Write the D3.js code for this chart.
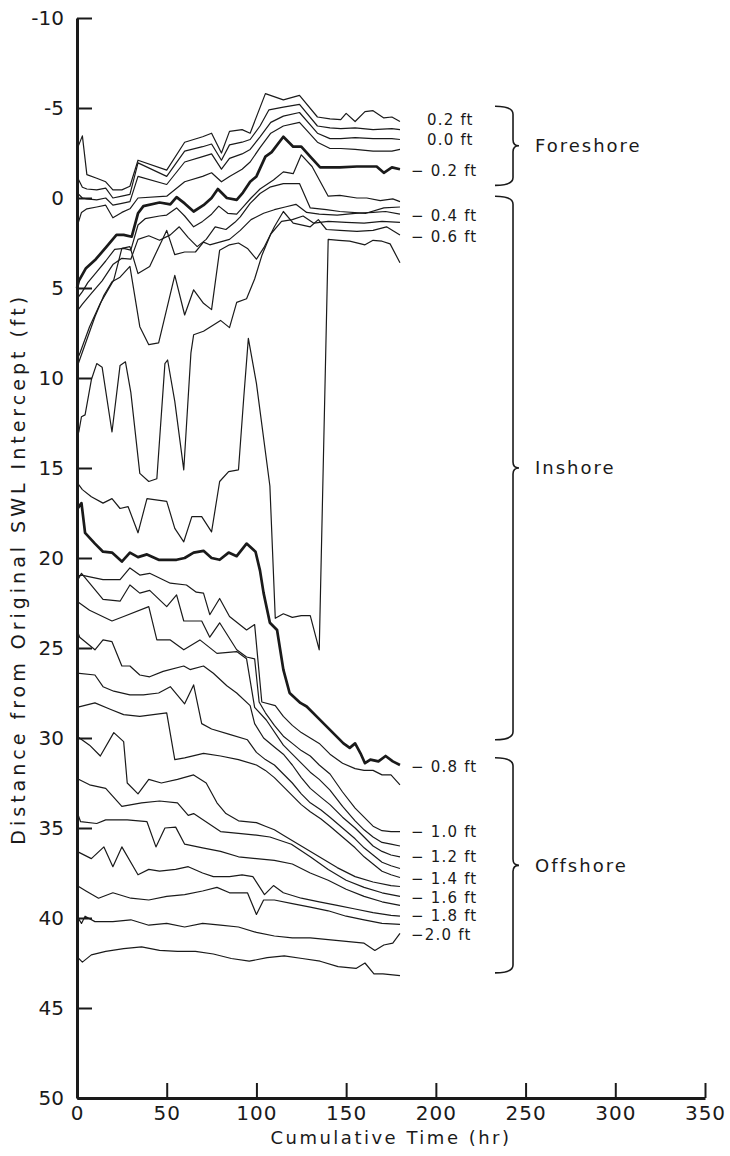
<!DOCTYPE html>
<html>
<head>
<meta charset="utf-8">
<script src="https://cdn.jsdelivr.net/npm/d3@7"></script>
<style>
  body { margin: 0; background: #fff; }
  svg text { font-family: "DejaVu Sans", sans-serif; fill: #1a1a1a; }
</style>
</head>
<body>
<svg id="chart" width="730" height="1156"></svg>
<script>
// Contour positions: [cumulative time (hr), distance from original SWL intercept (ft)]
// Foreshore contours
const z_p02 = [[0,-2.7],[3,-3.45],[5.5,-1.3],[11,-1.1],[16,-0.9],[20,-0.45],[25,-0.45],[29.5,-0.65],[34,-2.1],[50,-1.55],[60,-3.1],[70,-3.4],[75,-3.6],[80.5,-2.5],[85,-3.7],[92,-3.8],[96.5,-3.6],[105,-5.8],[115,-5.45],[124,-5.7],[134,-4.5],[141,-4.4],[147,-4.35],[150,-4.7],[155,-4.25],[160.5,-4.8],[165,-4.85],[171,-4.45],[175.5,-4.5],[180,-4.25]];
const z_p01 = [[0,-1.2],[3,-0.6],[5.5,-0.5],[11,-0.45],[16,-0.55],[20,0.0],[25,-0.1],[29.5,-0.2],[34,-1.95],[50,-1.2],[60,-2.6],[70,-2.85],[75,-3.0],[80.5,-2.1],[85,-2.95],[92,-3.1],[96.5,-3.25],[102,-4.0],[107,-4.9],[115,-5.05],[124,-5.2],[134,-4.0],[141,-3.9],[147,-3.85],[155,-3.9],[165,-3.8],[175.5,-3.85],[180,-3.8]];
const z_000 = [[0,-0.3],[3,0.0],[5.5,0.05],[11,0.1],[16,0.0],[20,0.4],[25,0.3],[29.5,0.2],[34,-1.2],[50,-0.75],[60,-2.0],[70,-2.3],[75,-2.45],[80.5,-1.6],[85,-2.2],[92,-2.45],[96.5,-2.7],[102,-3.4],[108,-4.2],[115,-4.55],[124,-4.75],[134,-3.6],[141,-3.3],[147,-3.3],[155,-3.35],[165,-3.3],[175.5,-3.3],[180,-3.25]];
const z_m01 = [[0,1.6],[2.5,0.8],[5.5,0.6],[11,0.5],[16,0.4],[20,1.1],[25,0.8],[29.5,0.6],[34,0.0],[50,-0.1],[60,-0.9],[70,-1.2],[75,-1.4],[80.5,-0.9],[85,-1.2],[92,-1.6],[96.5,-2.0],[102,-2.8],[108,-3.6],[115,-4.0],[124,-4.2],[134,-3.1],[141,-2.75],[147,-2.75],[155,-2.7],[165,-2.6],[175.5,-2.6],[180,-2.7]];
const z_m02 = [[0,5.0],[1,4.6],[5,3.9],[10.5,3.4],[16.5,2.7],[22,2.05],[26,2.05],[30.5,2.15],[34,0.85],[37,0.45],[46,0.25],[52,0.35],[55.5,-0.05],[60,0.3],[65,0.75],[70.5,0.4],[75,0.0],[78.5,-0.5],[83.5,0.0],[89,0.1],[92.5,-0.3],[96.5,-0.9],[100,-1.2],[105,-2.3],[108.5,-2.55],[115,-3.4],[120.5,-2.85],[125,-2.85],[130,-2.3],[135.5,-1.7],[146.5,-1.7],[156,-1.75],[167,-1.75],[171,-1.4],[175.5,-1.7],[180,-1.6]];
// Inshore contours
const z_m03 = [[0,5.6],[3,5.2],[6,4.7],[11,4.1],[16,3.5],[21,2.85],[26,2.8],[30,2.9],[34,1.5],[38,1.15],[46,1.0],[50,0.95],[55.5,0.55],[60,1.0],[65,1.6],[70,1.3],[75,0.9],[79,0.45],[84,0.85],[89,0.9],[93,0.45],[97,0.0],[102,-0.5],[109.5,-1.0],[115,-1.45],[120.5,-1.35],[125,-2.4],[131,-1.75],[140,-0.1],[146.5,-0.15],[156,0.0],[161.5,0.0],[169,0.15],[176,0.05],[180,0.2]];
const z_m03b = [[0,6.3],[3,5.9],[8,5.3],[14,4.6],[20,3.7],[25,3.35],[30,3.4],[34,2.3],[40,2.1],[46,2.35],[52,2.05],[57,1.6],[62,2.2],[67,2.7],[72,2.3],[77,1.6],[83,1.75],[88,1.35],[91,1.05],[96.5,0.3],[102,-0.25],[107.5,-0.6],[115,-0.8],[124,-0.8],[130,0.55],[139,0.65],[146.5,0.75],[161,0.85],[171,0.55],[180,0.5]];
const z_m04 = [[0,9.0],[1.7,8.6],[7,7.15],[13,5.85],[20.5,4.55],[25,2.8],[29.5,2.7],[34,4.2],[40.5,3.8],[50,1.8],[54.5,3.15],[60,3.0],[66,3.0],[70.5,2.45],[74,2.6],[79.5,2.45],[85,2.3],[91,1.8],[97,1.2],[104,0.85],[110,0.65],[116,0.5],[122,0.35],[128,0.8],[135,0.9],[145,0.95],[155,0.85],[165,0.8],[172,0.75],[180,0.9]];
const z_m05 = [[0,13.2],[1,13.0],[2.5,12.15],[4.5,12.05],[8,10.1],[11,9.2],[14,9.4],[19.5,13.0],[24,9.3],[27,9.1],[30,10.8],[35,15.3],[40,15.75],[44.5,15.6],[49,9.2],[50.5,9.0],[54.5,11.3],[59.5,15.1],[63.5,8.6],[65,7.6],[70.5,7.4],[80,6.8],[85,7.2],[89,5.8],[94.5,5.6],[99,4.5],[103,3.2],[108,2.0],[114,1.3],[120,1.2],[126,1.0],[132,1.4],[140,1.3],[150,1.35],[160,1.4],[170,1.3],[180,1.35]];
const z_m06 = [[0,9.4],[5,8.0],[10,6.6],[15,5.4],[19.5,4.65],[24,4.4],[29.5,3.8],[35,7.15],[40,8.15],[45.5,8.05],[54.5,4.3],[60,6.5],[65,5.1],[70.5,5.85],[75,6.2],[79.5,2.9],[85,2.6],[90,2.5],[95,2.8],[100,3.4],[104.5,2.7],[110,1.6],[115,0.75],[120.5,1.4],[130,1.6],[134.5,1.2],[139,1.75],[146.5,1.8],[156,1.85],[165,1.8],[172.5,1.6],[180,2.05]];
const z_m07 = [[0,15.8],[3,16.2],[8,16.6],[14.5,16.95],[19.5,16.7],[24,17.25],[28.5,17.15],[34,18.6],[39,16.7],[50,16.85],[54.5,18.35],[59.5,19.1],[64,17.7],[69.5,17.7],[75,18.55],[79.5,15.75],[84.5,15.2],[90,15.1],[93,11.0],[95.5,7.8],[100,10.3],[107.5,16.0],[110.5,23.35],[115,23.1],[120,23.3],[125,23.2],[130,23.2],[135,25.1],[140,2.3],[146,2.35],[152,2.4],[160.5,2.6],[165,2.35],[170,2.4],[174.5,2.55],[180,3.6]];
const z_m08 = [[0,17.3],[2.5,16.95],[4.5,18.6],[10,19.2],[14.5,19.65],[19.5,19.7],[25,20.2],[29.5,19.7],[34,19.95],[39,19.8],[45.5,20.1],[55.5,20.1],[60,20.0],[65,19.7],[70.5,19.6],[75,20.0],[79.5,20.1],[84.5,19.7],[89,19.9],[94.5,19.2],[99.5,19.65],[102,20.7],[104,21.95],[107.5,23.6],[111.5,24.0],[115,26.2],[118.5,27.5],[124.5,28.05],[128,28.25],[133.5,28.8],[141,29.55],[148.5,30.3],[152,30.55],[155,30.3],[158,30.85],[160.5,31.4],[163.5,31.2],[168,31.3],[172,31.0],[176,31.3],[180,31.5]];
// Offshore contours
const z_m09 = [[0,21.0],[2.5,20.95],[14.5,21.2],[24,21.2],[29.5,20.55],[35,20.95],[40.5,20.85],[52,21.4],[61,21.5],[66.5,21.9],[70.5,21.95],[74,23.15],[79.5,22.25],[85,23.25],[94.5,24.0],[99,23.7],[103,28.0],[110.5,28.2],[115,28.8],[120,29.3],[125,29.7],[130,30.0],[135,30.3],[141,30.9],[148,31.4],[155,31.7],[160,31.8],[165,31.8],[170,32.05],[175,32.05],[180,32.6]];
const z_m10 = [[0,21.3],[2.5,20.85],[7,21.4],[14.5,22.3],[24,22.4],[29.5,21.5],[35,21.95],[40.5,21.8],[50,22.7],[55.5,22.05],[59.5,23.5],[69.5,23.5],[74,24.4],[79.5,23.6],[89,25.1],[94.5,25.5],[99,25.6],[101.5,28.0],[105,28.6],[110,29.3],[115,29.9],[120,30.3],[125,30.7],[130,31.0],[135,31.5],[141,32.0],[148,33.0],[155,33.9],[160,34.4],[165,34.9],[170,35.15],[175,35.2],[180,35.2]];
const z_m11 = [[0,22.4],[7,22.9],[19.5,23.5],[26,23.25],[40,22.7],[44.5,24.55],[52,24.55],[59.5,25.1],[68.5,24.55],[78,25.3],[89,25.2],[94.5,25.6],[99,28.3],[105.5,29.0],[115,30.4],[120,30.9],[125,31.4],[130,31.9],[135,32.3],[141,32.9],[148,33.8],[155,34.6],[160,35.1],[165,35.5],[170,35.8],[175,35.9],[180,36.0]];
const z_m12 = [[0,24.0],[1.5,24.4],[10,25.1],[14.5,24.55],[19.5,24.65],[25,26.0],[29.5,26.0],[35,26.5],[40.5,26.6],[48,26.3],[59.5,26.0],[63,26.2],[70.5,26.0],[76,26.4],[83.5,27.1],[89,27.5],[96.5,28.2],[99,29.2],[104,30.0],[110,30.5],[115,30.9],[120,31.5],[125,32.2],[130,32.8],[136,33.3],[141,33.7],[148,34.4],[155,35.0],[160,35.5],[165,36.0],[170,36.3],[175,36.5],[180,36.6]];
const z_m13 = [[0,26.4],[10,26.5],[14.5,27.15],[20.5,27.4],[29.5,27.6],[37,27.6],[45.5,27.5],[52,27.15],[60,28.1],[65,27.05],[69.5,29.2],[75,29.5],[85,29.8],[95,30.1],[100,30.8],[105,31.2],[110,31.5],[115,32.0],[120,32.5],[125,33.1],[130,33.6],[136,34.0],[141,34.4],[148,35.0],[155,35.6],[160,36.1],[165,36.5],[170,36.9],[175,37.1],[180,37.25]];
const z_m14 = [[0,28.3],[10,28.05],[18.5,28.4],[26,28.7],[35,28.8],[42.5,28.7],[50,28.6],[54.5,31.2],[60,31.1],[70.5,30.85],[80,31.0],[90,31.2],[100,31.5],[105,31.8],[110,32.2],[115,32.7],[120,33.2],[125,33.7],[130,34.1],[136,34.5],[141,34.9],[148,35.5],[155,36.1],[160,36.6],[165,37.0],[170,37.4],[175,37.6],[180,37.75]];
const z_m15 = [[0,29.9],[7,30.4],[13,31.0],[20.5,29.7],[26,30.2],[28,32.5],[34,33.1],[40,32.3],[47,32.5],[56,32.3],[65,32.05],[72,32.5],[78,33.6],[83,34.2],[90,34.6],[100,34.7],[105,34.9],[110,35.1],[115,35.4],[125,36.0],[135,36.6],[145,37.2],[155,37.7],[165,38.0],[175,38.2],[180,38.25]];
const z_m16 = [[0,32.25],[7,32.6],[16,32.8],[25,33.8],[36,33.6],[46,33.5],[56,33.6],[62,34.3],[65,34.2],[80,35.2],[90,35.3],[100,35.4],[107.5,35.5],[119.5,35.9],[130,36.6],[140,37.3],[150,37.9],[160,38.3],[170,38.6],[180,38.8]];
const z_m17 = [[0,34.1],[2,34.65],[11,34.75],[16,34.55],[28,34.55],[39,34.65],[44,36.05],[49,35.0],[55,34.95],[60,35.9],[70,36.1],[80,36.3],[90,36.6],[100,36.7],[110,36.8],[120,37.0],[130,37.5],[140,37.9],[150,38.4],[160,38.8],[170,39.1],[180,39.3]];
const z_m18 = [[0,36.3],[8,36.7],[15,36.05],[20,37.15],[25,36.05],[34,37.6],[40,37.3],[46,37.4],[55,37.3],[62,37.15],[70,37.5],[76,37.7],[85,37.7],[92,37.6],[98,37.7],[104.5,38.7],[109.5,38.2],[115,38.6],[125,38.9],[135,39.1],[145,39.3],[155,39.5],[165,39.7],[175,39.85],[180,39.9]];
const z_m19 = [[0,38.2],[5,38.5],[12,38.9],[20,38.6],[30,38.9],[40,39.0],[50,38.8],[60,38.7],[70,38.5],[78,38.3],[85,38.6],[95,38.6],[100,39.8],[104,39.0],[110,39.0],[120,39.2],[130,39.4],[140,39.6],[150,39.9],[160,40.1],[170,40.3],[180,40.35]];
const z_m20 = [[0,39.9],[2.5,40.3],[4.5,39.9],[10,40.2],[20,40.2],[30,40.1],[40,40.4],[50,40.3],[60,40.5],[70,40.3],[80,40.4],[90,40.5],[100,40.8],[110,41.0],[120,41.1],[130,41.1],[140,41.2],[150,41.3],[160,41.4],[166,41.8],[171,41.5],[176,41.4],[180,40.85]];
const z_m21 = [[0,42.15],[3,42.45],[8,42.05],[16,41.85],[26,41.7],[36,41.6],[46,41.8],[56,41.85],[66,41.85],[76,42.0],[86,42.25],[96,42.4],[106,42.2],[115.5,42.1],[125.5,42.25],[135.5,42.4],[145.5,42.7],[155.5,42.8],[160.5,42.5],[165.5,43.1],[170.5,43.1],[180,43.2]];

const contours = [z_p02, z_p01, z_000, z_m01, z_m02, z_m03, z_m03b, z_m04, z_m05, z_m06, z_m07, z_m08,
                  z_m09, z_m10, z_m11, z_m12, z_m13, z_m14, z_m15, z_m16, z_m17, z_m18, z_m19, z_m20, z_m21];
const heavyContours = [z_m02, z_m08];

// Elevation labels at the right-hand end of the contours
const labelText = ["0.2 ft", "0.0 ft", "\u2212 0.2 ft", "\u2212 0.4 ft", "\u2212 0.6 ft", "\u2212 0.8 ft",
                   "\u2212 1.0 ft", "\u2212 1.2 ft", "\u2212 1.4 ft", "\u2212 1.6 ft", "\u2212 1.8 ft", "\u22122.0 ft"];
const labelAt = [-4.35, -3.25, -1.5, 0.95, 2.15, 31.6, 35.2, 36.6, 37.8, 38.85, 39.85, 40.9];

// Beach zones (bracketed ranges of distance)
const zoneNames = ["Foreshore", "Inshore", "Offshore"];
const zoneFrom = [-5.1, -0.1, 31.1];
const zoneTo = [-0.7, 30.1, 43.05];

// Axis ticks
const xTicks = [0, 50, 100, 150, 200, 250, 300, 350];
const yTicks = [-10, -5, 0, 5, 10, 15, 20, 25, 30, 35, 40, 45, 50];

const svg = d3.select("#chart");
const ink = "#1a1a1a";
const x = d3.scaleLinear().domain([0, 350]).range([77, 705]);
const y = d3.scaleLinear().domain([-10, 50]).range([18, 1098]);

const line = d3.line().x(d => x(d[0])).y(d => y(d[1]));

svg.append("g").selectAll("path")
  .data(contours)
  .join("path")
  .attr("d", line)
  .attr("fill", "none")
  .attr("stroke", ink)
  .attr("stroke-width", d => heavyContours.includes(d) ? 2.7 : 1.2)
  .attr("stroke-linejoin", "round");

// Axes: ticks point into the plot
const yAxis = d3.axisLeft(y).tickValues(yTicks).tickSizeInner(-15).tickSizeOuter(0)
  .tickPadding(13).tickFormat(d => d < 0 ? "-" + Math.abs(d) : String(d));
const gy = svg.append("g").attr("transform", `translate(${x(0)},0)`).call(yAxis);
gy.attr("font-size", 20).attr("font-family", "DejaVu Sans, sans-serif");
gy.select(".domain").attr("stroke", ink).attr("stroke-width", 3);
gy.selectAll(".tick line").attr("stroke", ink).attr("stroke-width", 2);
gy.selectAll(".tick text").attr("fill", ink);

const xAxis = d3.axisBottom(x).tickValues(xTicks).tickSizeInner(-15).tickSizeOuter(0).tickPadding(8);
const gx = svg.append("g").attr("transform", `translate(0,${y(50)})`).call(xAxis);
gx.attr("font-size", 20).attr("font-family", "DejaVu Sans, sans-serif");
gx.select(".domain").attr("stroke", ink).attr("stroke-width", 3);
gx.selectAll(".tick line").attr("stroke", ink).attr("stroke-width", 2);
gx.selectAll(".tick text").attr("fill", ink).attr("letter-spacing", 1);

// Axis titles
svg.append("text")
  .attr("x", (x(0) + x(350)) / 2).attr("y", 1144)
  .attr("text-anchor", "middle").attr("font-size", 18).attr("letter-spacing", 2.5)
  .text("Cumulative Time (hr)");
svg.append("text")
  .attr("transform", `translate(25,${y(20.6)}) rotate(-90)`)
  .attr("text-anchor", "middle").attr("font-size", 19).attr("letter-spacing", 4)
  .text("Distance from Original SWL Intercept (ft)");

// Contour elevation labels
const lineEnd = x(180);
svg.append("g").selectAll("text")
  .data(labelText)
  .join("text")
  .attr("x", d => d.startsWith("\u2212") ? lineEnd + 11 : lineEnd + 27)
  .attr("y", (d, i) => y(labelAt[i]))
  .attr("dy", "0.36em")
  .attr("font-size", 15)
  .attr("letter-spacing", 1.2)
  .text(d => d);

// Zone braces
const braceX = x(243);
const brace = (top, bot) => {
  const mid = (top + bot) / 2;
  return `M${braceX - 18},${top} Q${braceX},${top} ${braceX},${top + 8}` +
         ` L${braceX},${mid - 6} Q${braceX},${mid} ${braceX + 6},${mid}` +
         ` Q${braceX},${mid} ${braceX},${mid + 6} L${braceX},${bot - 8}` +
         ` Q${braceX},${bot} ${braceX - 18},${bot}`;
};
const zones = svg.append("g");
zoneNames.forEach((name, i) => {
  const top = y(zoneFrom[i]), bot = y(zoneTo[i]);
  zones.append("path").attr("d", brace(top, bot))
    .attr("fill", "none").attr("stroke", ink).attr("stroke-width", 1.6);
  zones.append("text")
    .attr("x", braceX + 22).attr("y", (top + bot) / 2).attr("dy", "0.36em")
    .attr("font-size", 18).attr("letter-spacing", 2)
    .text(name);
});
</script>
</body>
</html>
